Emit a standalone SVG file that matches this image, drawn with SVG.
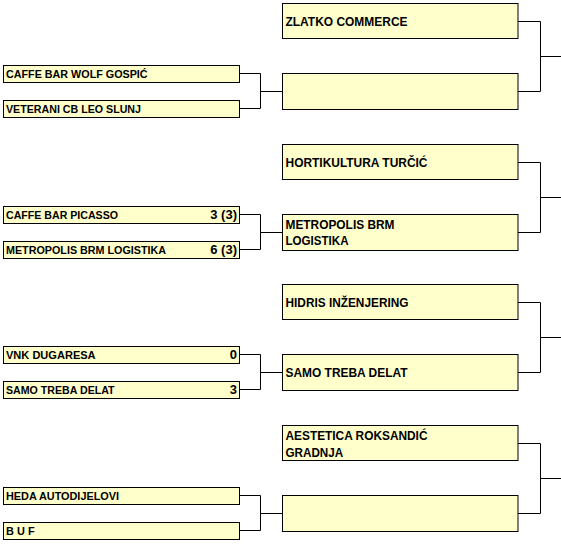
<svg xmlns="http://www.w3.org/2000/svg" width="561" height="544" viewBox="0 0 561 544">
<style>
.box{fill:#FFFFCC;stroke:#000;stroke-width:1}
.ln{fill:none;stroke:#000;stroke-width:1}
.tl{font-family:"Liberation Sans",Arial,sans-serif;font-weight:bold;font-size:11px;fill:#000}
.tr{font-family:"Liberation Sans",Arial,sans-serif;font-weight:bold;font-size:13px;fill:#000}
.sc{font-family:"Liberation Sans",Arial,sans-serif;font-weight:bold;font-size:13px;fill:#000;text-anchor:end}
</style>
<rect width="561" height="544" fill="#fff"/>
<g id="connectors">
<g transform="translate(0,0)"><path class="ln" d="M239.5 73.5H260.5V108.5H239.5M260.5 91.5H282.5M518 21.5H540.5V91.5H518M540.5 56.5H561"/></g>
<g transform="translate(0,141)"><path class="ln" d="M239.5 73.5H260.5V108.5H239.5M260.5 91.5H282.5M518 21.5H540.5V91.5H518M540.5 56.5H561"/></g>
<g transform="translate(0,281)"><path class="ln" d="M239.5 73.5H260.5V108.5H239.5M260.5 91.5H282.5M518 21.5H540.5V91.5H518M540.5 56.5H561"/></g>
<g transform="translate(0,422)"><path class="ln" d="M239.5 73.5H260.5V108.5H239.5M260.5 91.5H282.5M518 21.5H540.5V91.5H518M540.5 56.5H561"/></g>
</g>
<!-- group 1 -->
<g id="n-wolf"><rect class="box" x="3.5" y="65.5" width="236" height="17"/><text class="tl" x="6" y="78" textLength="141.6" lengthAdjust="spacingAndGlyphs">CAFFE BAR WOLF GOSPIĆ</text></g>
<g id="n-veterani"><rect class="box" x="3.5" y="100.5" width="236" height="17"/><text class="tl" x="6" y="113" textLength="135" lengthAdjust="spacingAndGlyphs">VETERANI CB LEO SLUNJ</text></g>
<g id="n-zlatko"><rect class="box" x="282.5" y="3.5" width="235.5" height="35"/><text class="tr" x="285.5" y="25.7" textLength="122" lengthAdjust="spacingAndGlyphs">ZLATKO COMMERCE</text></g>
<g id="n-r1"><rect class="box" x="282.5" y="73.5" width="235.5" height="36"/></g>
<!-- group 2 -->
<g id="n-picasso"><rect class="box" x="3.5" y="206.5" width="236" height="17"/><text class="tl" x="6" y="219" textLength="112" lengthAdjust="spacingAndGlyphs">CAFFE BAR PICASSO</text><text class="sc" x="237" y="218.5">3 (3)</text></g>
<g id="n-metro-l"><rect class="box" x="3.5" y="241.5" width="236" height="17"/><text class="tl" x="6" y="254" textLength="160" lengthAdjust="spacingAndGlyphs">METROPOLIS BRM LOGISTIKA</text><text class="sc" x="237" y="253.5">6 (3)</text></g>
<g id="n-horti"><rect class="box" x="282.5" y="144.5" width="235.5" height="35"/><text class="tr" x="285.5" y="166.7" textLength="142" lengthAdjust="spacingAndGlyphs">HORTIKULTURA TURČIĆ</text></g>
<g id="n-metro-r"><rect class="box" x="282.5" y="214.5" width="235.5" height="36"/><text class="tr" x="285.5" y="228.5" textLength="109" lengthAdjust="spacingAndGlyphs">METROPOLIS BRM</text><text class="tr" x="285.5" y="245" textLength="63" lengthAdjust="spacingAndGlyphs">LOGISTIKA</text></g>
<!-- group 3 -->
<g id="n-vnk"><rect class="box" x="3.5" y="346.5" width="236" height="17"/><text class="tl" x="6" y="359" textLength="89.6" lengthAdjust="spacingAndGlyphs">VNK DUGARESA</text><text class="sc" x="237" y="358.5">0</text></g>
<g id="n-samo-l"><rect class="box" x="3.5" y="381.5" width="236" height="17"/><text class="tl" x="6" y="394" textLength="108.6" lengthAdjust="spacingAndGlyphs">SAMO TREBA DELAT</text><text class="sc" x="237" y="393.5">3</text></g>
<g id="n-hidris"><rect class="box" x="282.5" y="284.5" width="235.5" height="35"/><text class="tr" x="285.5" y="306.7" textLength="123" lengthAdjust="spacingAndGlyphs">HIDRIS INŽENJERING</text></g>
<g id="n-samo-r"><rect class="box" x="282.5" y="354.5" width="235.5" height="36"/><text class="tr" x="285.5" y="377.2" textLength="122" lengthAdjust="spacingAndGlyphs">SAMO TREBA DELAT</text></g>
<!-- group 4 -->
<g id="n-heda"><rect class="box" x="3.5" y="487.5" width="236" height="17"/><text class="tl" x="6" y="500" textLength="113" lengthAdjust="spacingAndGlyphs">HEDA AUTODIJELOVI</text></g>
<g id="n-buf"><rect class="box" x="3.5" y="522.5" width="236" height="17"/><text class="tl" x="6" y="535" textLength="28.6" lengthAdjust="spacingAndGlyphs">B U F</text></g>
<g id="n-aestetica"><rect class="box" x="282.5" y="425.5" width="235.5" height="35"/><text class="tr" x="285.5" y="440" textLength="142" lengthAdjust="spacingAndGlyphs">AESTETICA ROKSANDIĆ</text><text class="tr" x="285.5" y="456.5" textLength="57.7" lengthAdjust="spacingAndGlyphs">GRADNJA</text></g>
<g id="n-r4"><rect class="box" x="282.5" y="495.5" width="235.5" height="36"/></g>
</svg>
